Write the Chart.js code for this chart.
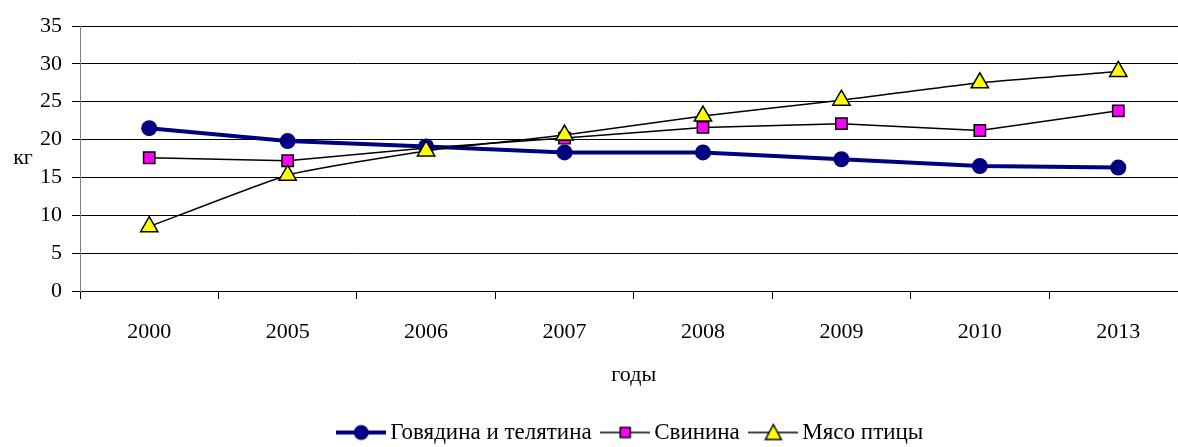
<!DOCTYPE html>
<html>
<head>
<meta charset="utf-8">
<script src="https://cdn.jsdelivr.net/npm/chart.js@4.4.0/dist/chart.umd.min.js"></script>
<style>
  html, body { margin: 0; padding: 0; background: #fff; overflow: hidden; }
</style>
</head>
<body>
<canvas id="meat" width="1199" height="447"></canvas>
<script>
const years = ['2000', '2005', '2006', '2007', '2008', '2009', '2010', '2013'];
const beef = [21.5, 19.8, 19.1, 18.3, 18.3, 17.4, 16.5, 16.3];
const pork = [17.6, 17.2, 18.9, 20.2, 21.6, 22.1, 21.2, 23.8];
const poultry = [8.5, 15.3, 18.5, 20.6, 23.1, 25.2, 27.5, 29.0];
const names = ['Говядина и телятина', 'Свинина', 'Мясо птицы'];

const font = 'Liberation Serif';

// little line + marker picture for the legend
function legendIcon(kind) {
    var c = document.createElement('canvas');
    c.width = 50; c.height = 20;
    var g = c.getContext('2d');
    g.beginPath();
    g.moveTo(0, 10); g.lineTo(50, 10);
    g.strokeStyle = kind == 0 ? '#000080' : '#000';
    g.lineWidth = kind == 0 ? 4 : 1.5;
    g.stroke();
    g.lineWidth = 1.5;
    g.strokeStyle = '#000';
    if (kind == 0) {
        g.beginPath(); g.arc(25, 10, 7.5, 0, Math.PI * 2);
        g.fillStyle = '#000080'; g.fill();
    } else if (kind == 1) {
        g.fillStyle = '#ff00ff';
        g.fillRect(20, 5, 10, 10); g.strokeRect(20, 5, 10, 10);
    } else {
        g.beginPath(); g.moveTo(25, 2); g.lineTo(33, 17); g.lineTo(17, 17); g.closePath();
        g.fillStyle = '#ffff00'; g.fill(); g.stroke();
    }
    return c;
}
var icons = [legendIcon(0), legendIcon(1), legendIcon(2)];

// "кг" is written flat, left of the axis; legend nudged like in the picture
const extras = {
    id: 'extras',
    afterLayout(chart) {
        var lg = chart.legend;
        lg.top += 7; lg.bottom += 7;
        lg.left += 36; lg.right += 36;
    },
    afterDraw(chart) {
        var ctx = chart.ctx;
        ctx.save();
        ctx.font = '22px "' + font + '"';
        ctx.fillStyle = '#000';
        ctx.textAlign = 'center';
        ctx.textBaseline = 'middle';
        ctx.fillText('кг', 23, chart.scales.y.getPixelForValue(17.5));
        ctx.restore();
    }
};

var ctx = document.getElementById('meat').getContext('2d');
var chart = new Chart(ctx, {
    type: 'line',
    data: {
        labels: years,
        datasets: [{
            label: names[0],
            data: beef,
            borderColor: '#000080',
            backgroundColor: '#000080',
            borderWidth: 4,
            pointRadius: 8,
            pointBorderWidth: 0,
            pointStyle: 'circle',
            order: 2
        }, {
            label: names[1],
            data: pork,
            borderColor: '#000',
            backgroundColor: '#ff00ff',
            borderWidth: 1.5,
            pointStyle: 'rect',
            pointRadius: 8,
            pointBorderColor: '#000',
            pointBorderWidth: 1.5,
            order: 3
        }, {
            label: names[2],
            data: poultry,
            borderColor: '#000',
            backgroundColor: '#ffff00',
            borderWidth: 1.5,
            pointStyle: 'triangle',
            pointRadius: 10,
            pointBorderColor: '#000',
            pointBorderWidth: 1.5,
            tension: 0.15,
            order: 1
        }]
    },
    options: {
        responsive: false,
        animation: false,
        layout: { padding: { top: 26, right: 4, left: 0, bottom: 0 } },
        plugins: {
            tooltip: { enabled: false },
            legend: {
                position: 'bottom',
                labels: {
                    usePointStyle: true,
                    pointStyleWidth: 35,
                    boxHeight: 20,
                    padding: 16,
                    color: '#000',
                    font: { family: font, size: 23 },
                    sort: (a, b) => a.datasetIndex - b.datasetIndex,
                    generateLabels: function (ch) {
                        return ch.data.datasets.map(function (ds, i) {
                            return {
                                text: ds.label,
                                pointStyle: icons[i],
                                fillStyle: '#fff',
                                strokeStyle: '#fff',
                                lineWidth: 0,
                                fontColor: '#000',
                                datasetIndex: i
                            };
                        });
                    }
                }
            }
        },
        scales: {
            x: {
                offset: true,
                afterFit: s => { s.height = 107; },
                grid: { offset: true, drawOnChartArea: false, drawTicks: true, tickLength: 8, color: '#000' },
                border: { color: '#000', width: 1 },
                ticks: { color: '#000', padding: 20, font: { family: font, size: 22 } },
                title: { display: true, text: 'годы', color: '#000', padding: { top: 10, bottom: 10 }, font: { family: font, size: 22 } }
            },
            y: {
                min: 0, max: 35,
                afterFit: s => { s.width = 80; },
                grid: { color: '#000', lineWidth: 1, tickLength: 8 },
                border: { color: '#808080', width: 1 },
                ticks: { stepSize: 5, color: '#000', padding: 10, font: { family: font, size: 22 } }
            }
        }
    },
    plugins: [extras]
});
</script>
</body>
</html>
